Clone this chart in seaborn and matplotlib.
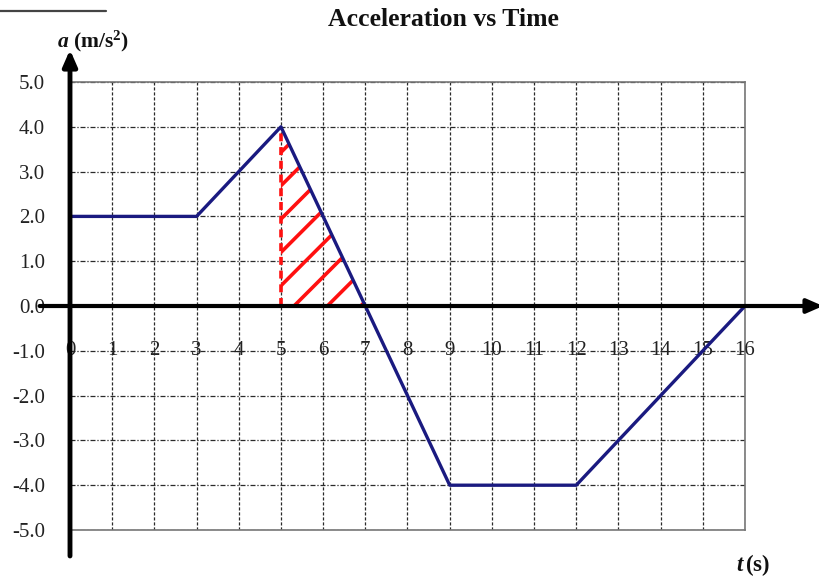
import numpy as np
import pandas as pd
import matplotlib
matplotlib.use("Agg")
import matplotlib.pyplot as plt
from matplotlib.lines import Line2D
import seaborn as sns

# Piecewise acceleration profile
t_vals = [0, 3, 5, 7, 9, 12, 16]
a_vals = [2.0, 2.0, 4.0, 0.0, -4.0, -4.0, 0.0]

x_ticks = list(range(0, 17))
y_ticks = [5.0, 4.0, 3.0, 2.0, 1.0, 0.0, -1.0, -2.0, -3.0, -4.0, -5.0]
y_labels = ["5.0", "4.0", "3.0", "2.0", "1.0", "0.0", "-1.0", "-2.0", "-3.0", "-4.0", "-5.0"]

title = "Acceleration vs Time"

sns.set_theme(style="white")
plt.rcParams["font.family"] = ["Liberation Serif", "DejaVu Serif"]
plt.rcParams["mathtext.fontset"] = "custom"
plt.rcParams["mathtext.rm"] = "Liberation Serif:bold"
plt.rcParams["mathtext.bf"] = "Liberation Serif:bold"
plt.rcParams["mathtext.it"] = "Liberation Serif:italic:bold"
plt.rcParams["hatch.linewidth"] = 2.6

W, H = 820, 579
fig = plt.figure(figsize=(W / 100, H / 100), dpi=100)
fig.patch.set_facecolor("white")

# plot box: t 0..16 spans px 70..745, a 5..-5 spans px 82..530
ax = fig.add_axes([70 / W, (H - 530) / H, 675 / W, 448 / H])
ax.set_xlim(0, 16)
ax.set_ylim(-5, 5)
ax.set_facecolor("white")

df = pd.DataFrame({"t": t_vals, "a": a_vals})

# grid
ax.set_xticks(x_ticks)
ax.set_yticks(y_ticks)
ax.grid(axis="x", color="#2a2a2a", linewidth=0.9, linestyle=(0, (2.5, 1.5)))
ax.grid(axis="y", color="#2a2a2a", linewidth=0.9, linestyle=(0, (4, 1.5, 1, 1.5)))
ax.set_axisbelow(True)

for side in ["top", "right", "bottom"]:
    ax.spines[side].set_color("#777777")
    ax.spines[side].set_linewidth(1.2)
ax.spines["left"].set_visible(False)

ax.set_yticklabels(y_labels, fontsize=15, color="#222222")
ax.tick_params(axis="y", length=0, pad=18)
ax.set_xticklabels([])
ax.tick_params(axis="x", length=0)

# x tick labels sit along the -1 gridline
for t in x_ticks:
    ax.text(t, -1.0, str(t), ha="center", va="center", fontsize=15,
            color="#222222", clip_on=False, zorder=3)

# shaded area under the line between t=5 and t=7
ax.fill_between(t_vals[2:4], 0, a_vals[2:4], facecolor="none",
                edgecolor="#ff1010", hatch="/", linewidth=0, zorder=2)
ax.vlines(t_vals[2], 0, a_vals[2], colors="#ff1010", linewidth=2.6,
          linestyles=[(0, (2.2, 1.6))], zorder=2)

sns.lineplot(data=df, x="t", y="a", ax=ax, sort=False, color="#1a1a80",
             linewidth=2.4, zorder=4, legend=False)
ax.set_xlabel("")
ax.set_ylabel("")

# coordinate axes with arrowheads
ax.annotate("", xy=(17.85, 0), xytext=(-0.72, 0),
            arrowprops=dict(arrowstyle="-|>,head_length=0.8,head_width=0.35",
                            color="black", lw=3.0, shrinkA=0, shrinkB=0),
            annotation_clip=False, zorder=5)
ax.annotate("", xy=(0, 5.72), xytext=(0, -5.58),
            arrowprops=dict(arrowstyle="-|>,head_length=0.8,head_width=0.35",
                            color="black", lw=3.5, shrinkA=0, shrinkB=0),
            annotation_clip=False, zorder=5)

# labels
fig.text(443 / W, 1 - 19 / H, title, ha="center", va="center",
         fontsize=18.5, fontweight="bold", color="#111111")
fig.text(57 / W, 1 - 41 / H, r"$\mathit{a}\ \mathrm{(m/s^2)}$", ha="left",
         va="center", fontsize=15.5, color="#111111")
fig.text(736 / W, 1 - 565 / H, r"$\mathit{t}\,\mathrm{(s)}$", ha="left",
         va="center", fontsize=16.5, color="#111111")

# rule at the top-left corner
fig.add_artist(Line2D([0, 106 / W], [1 - 11 / H, 1 - 11 / H],
                      color="#444444", linewidth=1.6))

fig.savefig("out.png", dpi=100)
